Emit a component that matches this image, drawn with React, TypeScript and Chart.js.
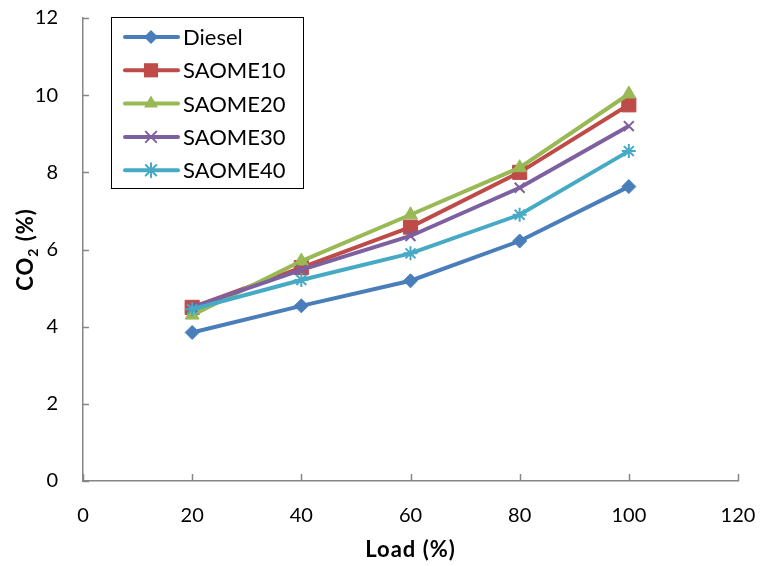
import React, { useEffect, useRef } from 'react';
import { Chart, registerables } from 'chart.js';

Chart.register(...registerables);

const loads = [20, 40, 60, 80, 100];
const diesel = [3.85, 4.54, 5.19, 6.22, 7.63];
const saome10 = [4.5, 5.53, 6.58, 8.0, 9.75];
const saome20 = [4.3, 5.7, 6.9, 8.12, 10.03];
const saome30 = [4.5, 5.47, 6.35, 7.6, 9.2];
const saome40 = [4.45, 5.21, 5.9, 6.9, 8.55];

const seriesNames = ['Diesel', 'SAOME10', 'SAOME20', 'SAOME30', 'SAOME40'];
const seriesValues = [diesel, saome10, saome20, saome30, saome40];
const seriesColors = ['#4A7EBB', '#BE4B48', '#98B954', '#7D60A0', '#46AAC5'];
const pointStyles = ['rectRot', 'rect', 'triangle', 'crossRot', 'star'];
const pointRadii = [7, 10, 8, 7, 7];

const xTickValues = [0, 20, 40, 60, 80, 100, 120];
const yTickValues = [0, 2, 4, 6, 8, 10, 12];

const xTitle = 'Load (%)';
const yTitleMain = 'CO';
const yTitleSub = '2';
const yTitleRest = ' (%)';

const FONT = 'Lato, "Open Sans", sans-serif';

function drawMarker(ctx: CanvasRenderingContext2D, style: string, x: number, y: number, r: number, color: string) {
  ctx.save();
  ctx.fillStyle = color;
  ctx.strokeStyle = color;
  ctx.lineWidth = 2;
  ctx.beginPath();
  if (style === 'rectRot') {
    ctx.moveTo(x, y - r);
    ctx.lineTo(x + r, y);
    ctx.lineTo(x, y + r);
    ctx.lineTo(x - r, y);
    ctx.closePath();
    ctx.fill();
  } else if (style === 'rect') {
    const s = Math.SQRT1_2 * r;
    ctx.rect(x - s, y - s, 2 * s, 2 * s);
    ctx.fill();
  } else if (style === 'triangle') {
    ctx.moveTo(x, y - r);
    ctx.lineTo(x + r * 0.866, y + r * 0.5);
    ctx.lineTo(x - r * 0.866, y + r * 0.5);
    ctx.closePath();
    ctx.fill();
  } else if (style === 'crossRot') {
    const d = r * 0.75;
    ctx.moveTo(x - d, y - d);
    ctx.lineTo(x + d, y + d);
    ctx.moveTo(x + d, y - d);
    ctx.lineTo(x - d, y + d);
    ctx.stroke();
  } else if (style === 'star') {
    const d = r * 0.75;
    ctx.moveTo(x - d, y - d);
    ctx.lineTo(x + d, y + d);
    ctx.moveTo(x + d, y - d);
    ctx.lineTo(x - d, y + d);
    ctx.moveTo(x, y - r);
    ctx.lineTo(x, y + r);
    ctx.moveTo(x - r, y);
    ctx.lineTo(x + r, y);
    ctx.stroke();
  }
  ctx.restore();
}

const decorPlugin = {
  id: 'decor',
  beforeDatasetsDraw(chart: any) {
    const ctx = chart.ctx as CanvasRenderingContext2D;
    const xs = chart.scales.x;
    const ys = chart.scales.y;
    const area = chart.chartArea;
    ctx.save();
    ctx.strokeStyle = '#868686';
    ctx.lineWidth = 1.5;
    ctx.beginPath();
    for (const v of xTickValues) {
      const px = Math.round(xs.getPixelForValue(v)) + 0.5;
      ctx.moveTo(px, area.bottom);
      ctx.lineTo(px, area.bottom - 7);
    }
    for (const v of yTickValues) {
      const py = Math.round(ys.getPixelForValue(v)) + 0.5;
      ctx.moveTo(area.left, py);
      ctx.lineTo(area.left + 6, py);
    }
    ctx.stroke();
    ctx.restore();
  },
  afterDraw(chart: any) {
    const ctx = chart.ctx as CanvasRenderingContext2D;
    const area = chart.chartArea;
    ctx.save();
    // x title
    ctx.fillStyle = '#000';
    ctx.font = 'bold 22px ' + FONT;
    (ctx as any).letterSpacing = '1px';
    ctx.textAlign = 'center';
    ctx.textBaseline = 'alphabetic';
    ctx.fillText(xTitle, (area.left + area.right) / 2, 557);

    // y title (rotated, with subscript)
    ctx.translate(33, (area.top + area.bottom) / 2);
    ctx.rotate(-Math.PI / 2);
    const mainFont = 'bold 22px ' + FONT;
    const subFont = 'bold 14px ' + FONT;
    ctx.font = mainFont;
    const w1 = ctx.measureText(yTitleMain).width;
    const w3 = ctx.measureText(yTitleRest).width;
    ctx.font = subFont;
    const w2 = ctx.measureText(yTitleSub).width;
    const total = w1 + w2 + w3;
    let cx = -total / 2;
    ctx.textAlign = 'left';
    ctx.font = mainFont;
    ctx.fillText(yTitleMain, cx, 0);
    cx += w1;
    ctx.font = subFont;
    ctx.fillText(yTitleSub, cx, 5);
    cx += w2;
    ctx.font = mainFont;
    ctx.fillText(yTitleRest, cx, 0);
    ctx.restore();

    // legend box
    ctx.save();
    ctx.fillStyle = '#fff';
    ctx.fillRect(111.5, 17.5, 192, 171);
    ctx.strokeStyle = '#000';
    ctx.lineWidth = 1;
    ctx.strokeRect(111.5, 17.5, 192, 171);
    ctx.font = '22px ' + FONT;
    ctx.textAlign = 'left';
    ctx.textBaseline = 'middle';
    seriesNames.forEach((name, i) => {
      const y = 37 + i * 33.3;
      ctx.strokeStyle = seriesColors[i];
      ctx.lineWidth = 4;
      ctx.lineCap = 'round';
      ctx.beginPath();
      ctx.moveTo(125, y);
      ctx.lineTo(178, y);
      ctx.stroke();
      drawMarker(ctx, pointStyles[i], 151, y, pointRadii[i], seriesColors[i]);
      ctx.fillStyle = '#000';
      ctx.fillText(name, 183, y + 1);
    });
    ctx.restore();
  },
};

function zeroPad(s: any) {
  s.paddingTop = 0;
  s.paddingBottom = 0;
  s.paddingLeft = 0;
  s.paddingRight = 0;
}

export default function App() {
  const ref = useRef<HTMLCanvasElement | null>(null);
  useEffect(() => {
    document.body.style.margin = '0';
    if (!ref.current) return;
    const datasets = seriesNames.map((name, i) => ({
      label: name,
      data: loads.map((x, j) => ({ x, y: seriesValues[i][j] })),
      borderColor: seriesColors[i],
      backgroundColor: seriesColors[i],
      borderWidth: 4,
      pointStyle: pointStyles[i] as any,
      pointRadius: pointRadii[i],
      pointBorderWidth: i >= 3 ? 2 : 1,
      pointBorderColor: seriesColors[i],
      pointBackgroundColor: seriesColors[i],
      tension: 0,
      order: seriesNames.length - i,
    }));
    const chart = new Chart(ref.current, {
      type: 'line',
      data: { datasets },
      options: {
        animation: false,
        responsive: false,
        maintainAspectRatio: false,
        layout: { padding: { top: 18, right: 22, left: 0, bottom: 0 } },
        plugins: { legend: { display: false }, tooltip: { enabled: false } },
        scales: {
          x: {
            type: 'linear',
            min: 0,
            max: 120,
            afterBuildTicks: (s: any) => { s.ticks = xTickValues.map((v) => ({ value: v })); },
            afterFit: (s: any) => { s.height = 85; zeroPad(s); },
            grid: { display: false, drawTicks: false },
            border: { display: true, color: '#868686', width: 1.5 },
            ticks: { color: '#000', font: { family: FONT, size: 20 }, padding: 23, maxRotation: 0 },
          },
          y: {
            type: 'linear',
            min: 0,
            max: 12,
            afterBuildTicks: (s: any) => { s.ticks = yTickValues.map((v) => ({ value: v })); },
            afterFit: (s: any) => { s.width = 83; zeroPad(s); },
            grid: { display: false, drawTicks: false },
            border: { display: true, color: '#868686', width: 1.5 },
            ticks: { color: '#000', font: { family: FONT, size: 20 }, padding: 25 },
          },
        },
      },
      plugins: [decorPlugin],
    });
    return () => chart.destroy();
  }, []);
  return (
    <div style={{ width: 760, height: 566 }}>
      <canvas ref={ref} width={760} height={566} />
    </div>
  );
}
